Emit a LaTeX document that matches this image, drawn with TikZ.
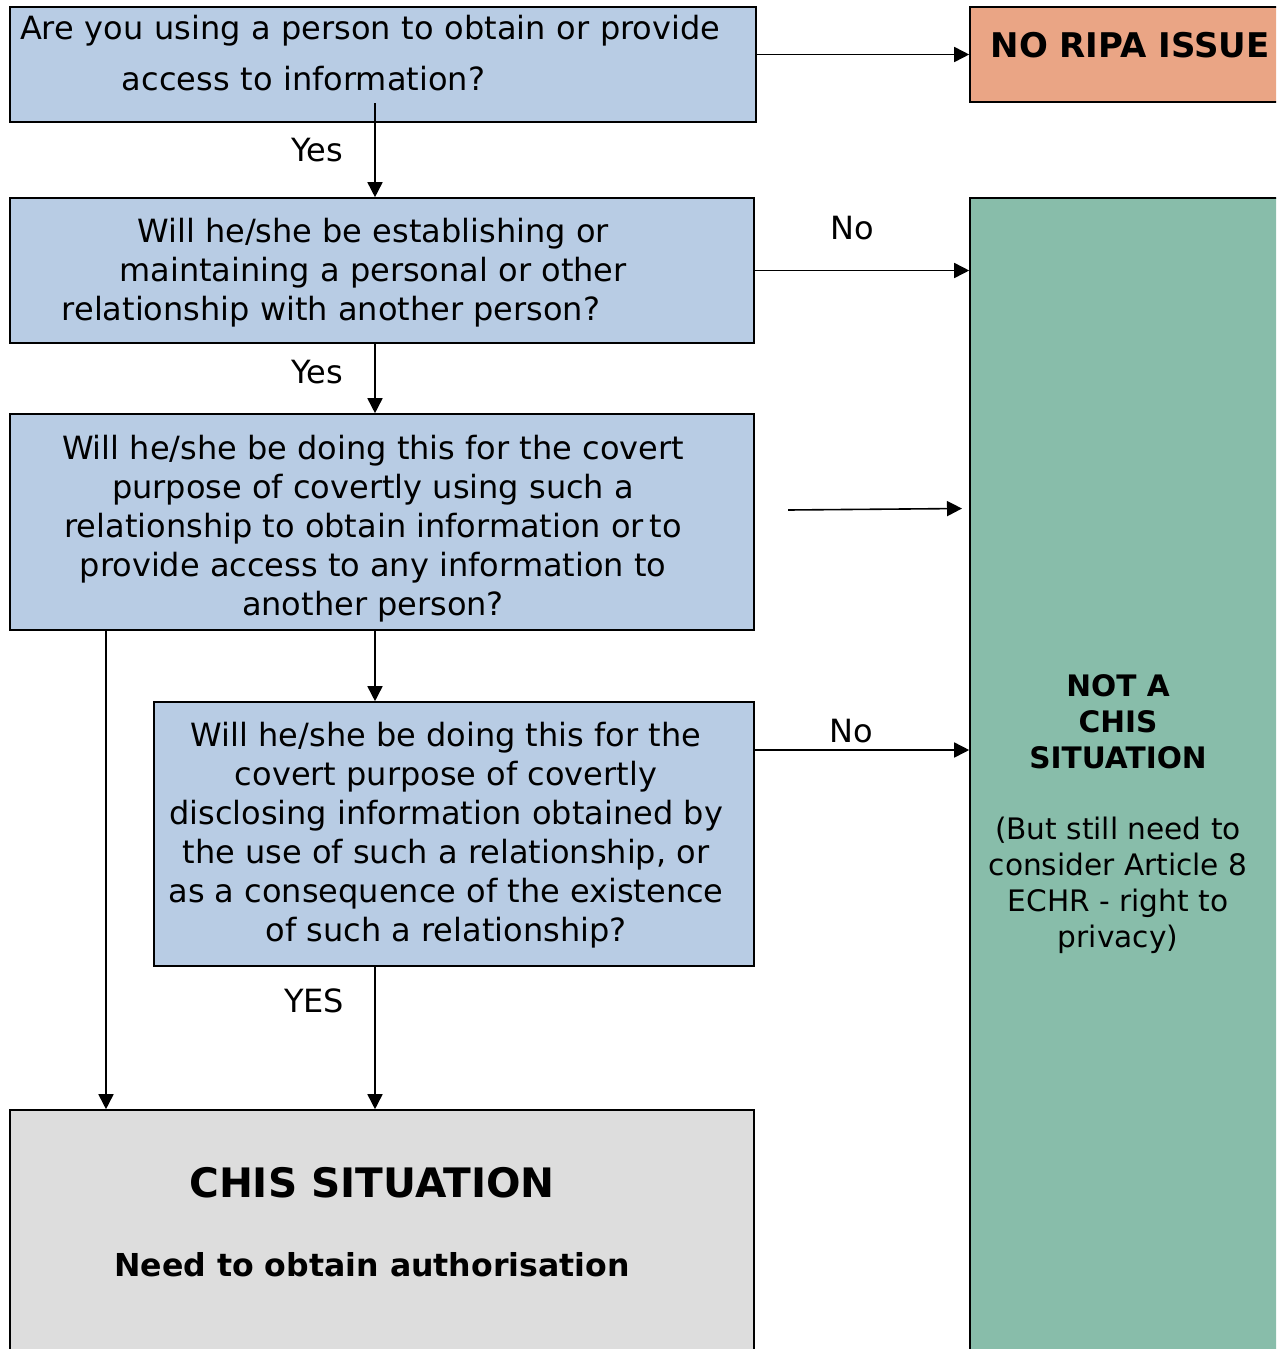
\documentclass[tikz,border=0pt]{standalone}
\usepackage{fontspec}
\setmainfont{DejaVu Sans}
\usetikzlibrary{arrows.meta}

\definecolor{qblue}{HTML}{B8CCE4}
\definecolor{ripared}{HTML}{EAA585}
\definecolor{chisgreen}{HTML}{88BDAA}
\definecolor{chisgrey}{HTML}{DDDDDD}

\tikzset{
    qbox/.style={draw, line width=0.8pt, fill=qblue, align=center, inner sep=0pt,
        font=\fontsize{16}{19.5}\selectfont},
    endbox/.style={draw, line width=0.8pt, align=center, inner sep=0pt},
    arr/.style={line width=0.8pt, -{Triangle[length=7.5pt,width=7.5pt]}},
    lbl/.style={inner sep=0pt, font=\fontsize{16}{19.5}\selectfont},
}

\begin{document}
\begin{tikzpicture}[x=0.5pt, y=-0.5pt]
    \useasboundingbox (0,0) rectangle (1276,1349);
    \clip (0,0) rectangle (1276,1349);

    % questions
    \node[qbox, minimum width=373pt, minimum height=57.5pt, text width=363pt, align=left] (q1) at (383,64.5)
        {Are you using a person to obtain or provide\\[6pt]\hspace*{51pt}access to information?\\[-7.5pt]\mbox{}};
    \node[qbox, minimum width=372pt, minimum height=72.5pt] (q2) at (382,270.5)
        {\rule{0pt}{14.7pt}Will he/she be establishing or\kern9pt\\
         maintaining a personal or other\kern9pt\\
         relationship with another person?\kern51pt};
    \node[qbox, minimum width=372pt, minimum height=108pt] (q3) at (382,522)
        {\rule{0pt}{18.7pt}Will he/she be doing this for the covert\kern9pt\\
         purpose of covertly using such a\kern9pt\\
         relationship to obtain information or\,to\kern9pt\\
         provide access to any information to\kern9pt\\
         another person?\kern9pt};
    \node[qbox, minimum width=300pt, minimum height=132pt] (q4) at (454,834)
        {\rule{0pt}{13.7pt}Will he/she be doing this for the\kern8pt\\
         covert purpose of covertly\kern8pt\\
         disclosing information obtained by\kern8pt\\
         the use of such a relationship, or\kern8pt\\
         as a consequence of the existence\kern8pt\\
         of such a relationship?\kern8pt};

    % outcomes
    \node[endbox, fill=ripared, minimum width=160pt, minimum height=47.5pt,
        font=\bfseries\fontsize{17}{20}\selectfont] (ripa) at (1130,54.5) {NO RIPA ISSUE\\[-10.5pt]\mbox{}};
    \node[endbox, fill=chisgreen, minimum width=155pt, minimum height=616pt,
        font=\fontsize{14.8}{18}\selectfont] (nochis) at (1125,814)
        {\textbf{NOT A}\kern7pt\\
         \textbf{CHIS}\kern7pt\\
         \textbf{SITUATION}\kern7pt\\[17.7pt]
         (But still need to\kern7pt\\
         consider Article 8\kern7pt\\
         ECHR - right to\kern7pt\\
         privacy)\kern7pt};
    \node[endbox, fill=chisgrey, minimum width=372pt, minimum height=125pt,
        font=\bfseries\fontsize{15.8}{19}\selectfont] (chis) at (382,1235)
        {{\fontsize{20.3}{24}\selectfont CHIS SITUATION}\kern10pt\\[20.5pt]
         Need to obtain authorisation\kern10pt\\[-5.7pt]\mbox{}};

    % connectors
    \coordinate (q1out) at (375,103);
    \coordinate (q4out) at (754,750);
    \coordinate (leftdrop) at (106,0);
    \coordinate (gapL) at (788,510);
    \coordinate (gapR) at (962,508.5);

    \draw[arr] (q1.east |- ripa.west) -- (ripa.west);
    \draw[arr] (q1out) -- (q1out |- q2.north) node[lbl, midway, left=15.5pt] {Yes};
    \draw[arr] (q2.east) -- (q2.east -| nochis.west) node[lbl, midway, above=15pt, xshift=-5pt] {No};
    \draw[arr] (q2.south -| q1out) -- (q3.north -| q1out) node[lbl, pos=0.4, left=15.5pt] {Yes};
    \draw[arr] (gapL) -- (gapR);
    \draw[arr] (q3.south -| q1out) -- (q4.north -| q1out);
    \draw[arr] (q3.south -| leftdrop) -- (chis.north -| leftdrop);
    \draw[arr] (q4out) -- (q4out -| nochis.west) node[lbl, midway, above=3pt, xshift=-5pt] {No};
    \draw[arr] (q4.south -| q1out) -- (chis.north -| q1out) node[lbl, pos=0.236, left=15pt] {YES};
\end{tikzpicture}
\end{document}
